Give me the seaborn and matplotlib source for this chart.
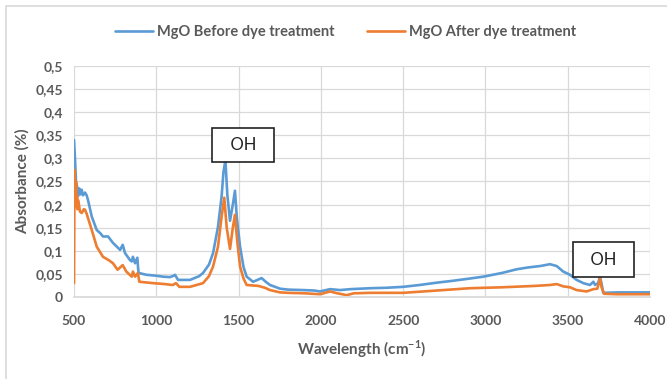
import matplotlib
matplotlib.use("Agg")
import matplotlib.pyplot as plt
import seaborn as sns
import pandas as pd
from matplotlib.patches import Rectangle
from matplotlib.ticker import FixedLocator, FixedFormatter

# ---- data ----
w_before = [500, 506, 512, 518, 524, 532, 540, 547, 555, 567, 577, 585, 608, 638, 660, 676, 707, 737,
            780, 796, 810, 840, 851, 858, 871, 885, 890, 893, 942, 1000, 1041, 1083, 1105, 1114, 1132,
            1205, 1260, 1284, 1320, 1345, 1375, 1397, 1408, 1420, 1432, 1448, 1465, 1478, 1490, 1509,
            1530, 1549, 1588, 1615, 1640, 1665, 1691, 1752, 1800, 1892, 1960, 1995, 2056, 2117, 2180,
            2299, 2400, 2500, 2600, 2704, 2800, 2906, 2987, 3100, 3190, 3260, 3332, 3392, 3433, 3473,
            3514, 3554, 3595, 3635, 3656, 3666, 3685, 3696, 3705, 3716, 3800, 3900, 4000]
a_before = [0.34, 0.30, 0.25, 0.24, 0.218, 0.235, 0.222, 0.232, 0.22, 0.226, 0.22, 0.21, 0.174, 0.145,
            0.138, 0.131, 0.131, 0.117, 0.102, 0.113, 0.095, 0.080, 0.077, 0.087, 0.073, 0.085, 0.060,
            0.052, 0.048, 0.046, 0.044, 0.043, 0.046, 0.048, 0.037, 0.037, 0.045, 0.052, 0.070, 0.095,
            0.152, 0.218, 0.270, 0.296, 0.220, 0.165, 0.200, 0.230, 0.170, 0.109, 0.065, 0.044, 0.033,
            0.037, 0.041, 0.033, 0.026, 0.018, 0.016, 0.015, 0.014, 0.012, 0.017, 0.015, 0.017, 0.019,
            0.020, 0.022, 0.026, 0.031, 0.035, 0.040, 0.044, 0.052, 0.060, 0.064, 0.067, 0.071, 0.067,
            0.055, 0.048, 0.037, 0.030, 0.026, 0.033, 0.026, 0.030, 0.044, 0.030, 0.009, 0.010, 0.010,
            0.010]

w_after = [500, 503, 506, 509, 512, 515, 518, 521, 524, 530, 536, 547, 560, 567, 577, 585, 608, 638,
           676, 710, 737, 765, 796, 818, 851, 858, 871, 888, 897, 980, 1050, 1100, 1120, 1140, 1205,
           1284, 1320, 1345, 1375, 1397, 1413, 1428, 1448, 1465, 1478, 1492, 1509, 1530, 1549, 1620,
           1660, 1691, 1752, 1800, 1900, 1995, 2056, 2100, 2157, 2200, 2299, 2500, 2704, 2906, 3100,
           3300, 3392, 3433, 3473, 3514, 3554, 3615, 3656, 3680, 3696, 3705, 3721, 3800, 4000]
a_after = [0.03, 0.275, 0.25, 0.20, 0.25, 0.196, 0.22, 0.19, 0.21, 0.20, 0.185, 0.182, 0.19, 0.189,
           0.18, 0.171, 0.145, 0.109, 0.087, 0.080, 0.073, 0.059, 0.069, 0.055, 0.044, 0.055, 0.044,
           0.052, 0.033, 0.030, 0.028, 0.026, 0.030, 0.022, 0.022, 0.030, 0.045, 0.066, 0.109, 0.174,
           0.215, 0.150, 0.104, 0.150, 0.178, 0.120, 0.066, 0.040, 0.026, 0.024, 0.020, 0.015, 0.010,
           0.009, 0.008, 0.006, 0.012, 0.008, 0.004, 0.008, 0.009, 0.009, 0.014, 0.019, 0.021, 0.024,
           0.026, 0.028, 0.023, 0.021, 0.015, 0.012, 0.017, 0.018, 0.040, 0.022, 0.007, 0.006, 0.006]

series_names = ["MgO Before dye treatment", "MgO After dye treatment"]
series_colors = ["#5B9BD5", "#ED7D31"]
x_ticks = [500, 1000, 1500, 2000, 2500, 3000, 3500, 4000]
y_ticks = [0, 0.05, 0.1, 0.15, 0.2, 0.25, 0.3, 0.35, 0.4, 0.45, 0.5]
y_tick_labels = ["0", "0,05", "0,1", "0,15", "0,2", "0,25", "0,3", "0,35", "0,4", "0,45", "0,5"]
annotations = [("OH", 1527, 0.329), ("OH", 3717, 0.081)]

df = pd.concat([
    pd.DataFrame({"w": w_before, "a": a_before, "s": series_names[0]}),
    pd.DataFrame({"w": w_after, "a": a_after, "s": series_names[1]}),
])

sns.set_theme(style="white")
FONT = ["Lato", "DejaVu Sans"]
plt.rcParams["font.family"] = FONT
TXT = "#595959"

fig = plt.figure(figsize=(6.67, 3.79), dpi=100)
ax = fig.add_axes([74 / 667, 1 - 297 / 379, (650 - 74) / 667, (297 - 66) / 379])

sns.lineplot(data=df, x="w", y="a", hue="s", palette=dict(zip(series_names, series_colors)),
             linewidth=1.9, ax=ax, sort=False, estimator=None)

ax.set_xlim(500, 4000)
ax.set_ylim(0, 0.5)
ax.xaxis.set_major_locator(FixedLocator(x_ticks))
ax.yaxis.set_major_locator(FixedLocator(y_ticks))
ax.yaxis.set_major_formatter(FixedFormatter(y_tick_labels))
ax.grid(True, color="#d9d9d9", linewidth=0.9)
ax.set_axisbelow(True)
for s in ["top", "right", "left"]:
    ax.spines[s].set_visible(False)
ax.spines["bottom"].set_color("#d9d9d9")
ax.tick_params(axis="both", length=0, labelsize=10, colors=TXT)
ax.tick_params(axis="x", pad=13)
ax.tick_params(axis="y", pad=8)
for lab in ax.get_xticklabels() + ax.get_yticklabels():
    lab.set_fontweight("bold")

ax.set_xlabel(r"Wavelength (cm$^{\mathregular{-1}}$)", fontsize=11, color=TXT, fontweight="bold", labelpad=8)
ax.set_ylabel("Absorbance (%)", fontsize=11, color=TXT, fontweight="bold", labelpad=4)

for txt, xw, ya in annotations:
    ax.text(xw, ya, "  " + txt + "  ", ha="center", va="center", fontsize=12, color="#222222",
            bbox=dict(boxstyle="square,pad=0.55", fc="white", ec="#222222", lw=1.2))

handles, labels = ax.get_legend_handles_labels()
ax.legend(handles, labels, loc="center", bbox_to_anchor=(0.518, 0.915), bbox_transform=fig.transFigure,
          ncol=2, frameon=False, handlelength=2.6, columnspacing=2.2, handletextpad=0.3,
          prop={"family": FONT, "size": 10.5, "weight": "bold"}, labelcolor=TXT)

fig.add_artist(Rectangle((6 / 667, -0.1), 1.2, 1 - 6 / 379 + 0.1, transform=fig.transFigure,
                         fill=False, ec="#d9d9d9", lw=1.2))

fig.savefig("out.png", dpi=100)
